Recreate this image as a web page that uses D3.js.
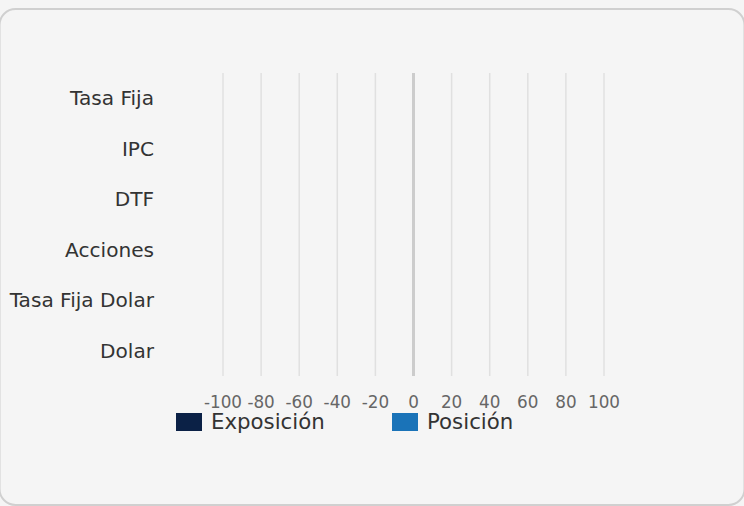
<!DOCTYPE html>
<html>
<head>
<meta charset="utf-8">
<script src="https://cdn.jsdelivr.net/npm/d3@7/dist/d3.min.js"></script>
<style>
  html, body { margin: 0; padding: 0; background: #f5f5f5; }
  svg { display: block; font-family: "DejaVu Sans", sans-serif; }
</style>
</head>
<body>
<div id="chart"></div>
<script>
// data
var categories = ["Tasa Fija", "IPC", "DTF", "Acciones", "Tasa Fija Dolar", "Dolar"];
var exposicion = [0, 0, 0, 0, 0, 0];
var posicion = [0, 0, 0, 0, 0, 0];
var seriesNames = ["Exposición", "Posición"];
var seriesColors = ["#0b2146", "#1a73b8"];
var tickValues = [-100, -80, -60, -40, -20, 0, 20, 40, 60, 80, 100];

var width = 744, height = 506;

var svg = d3.select("#chart")
  .append("svg")
  .attr("width", width)
  .attr("height", height);

// card
svg.append("rect")
  .attr("x", -0.5)
  .attr("y", 9)
  .attr("width", 745)
  .attr("height", 496)
  .attr("rx", 16)
  .attr("fill", "#f5f5f5")
  .attr("stroke", "#d0d0d0")
  .attr("stroke-width", 2);

var x = d3.scaleLinear().domain([-100, 100]).range([223, 604]);
var y = d3.scaleBand().domain(categories).range([73, 376]);
var ySub = d3.scaleBand().domain(seriesNames).range([0, y.bandwidth()]).padding(0.25);

// grid
svg.append("g")
  .selectAll("line")
  .data(tickValues)
  .enter()
  .append("line")
  .attr("x1", function (d) { return x(d); })
  .attr("x2", function (d) { return x(d); })
  .attr("y1", 73)
  .attr("y2", 376)
  .attr("stroke", function (d) { return d === 0 ? "#cccccc" : "#e0e0e0"; })
  .attr("stroke-width", function (d) { return d === 0 ? 3 : 1.5; });

// bars (all zero in the source)
var rows = categories.map(function (c, i) {
  return { cat: c, values: [exposicion[i], posicion[i]] };
});
var row = svg.append("g")
  .selectAll("g")
  .data(rows)
  .enter()
  .append("g")
  .attr("transform", function (d) { return "translate(0," + y(d.cat) + ")"; });
row.selectAll("rect")
  .data(function (d) { return d.values.map(function (v, k) { return { v: v, k: k }; }); })
  .enter()
  .append("rect")
  .attr("x", function (d) { return x(Math.min(0, d.v)); })
  .attr("width", function (d) { return Math.abs(x(d.v) - x(0)); })
  .attr("y", function (d) { return ySub(seriesNames[d.k]); })
  .attr("height", ySub.bandwidth())
  .attr("fill", function (d) { return seriesColors[d.k]; });

// category labels
svg.append("g")
  .selectAll("text")
  .data(categories)
  .enter()
  .append("text")
  .attr("x", 154)
  .attr("y", function (d) { return y(d) + y.bandwidth() / 2; })
  .attr("dy", "0.35em")
  .attr("text-anchor", "end")
  .attr("font-size", "20.1px")
  .attr("fill", "#333")
  .text(function (d) { return d; });

// tick labels
svg.append("g")
  .selectAll("text")
  .data(tickValues)
  .enter()
  .append("text")
  .attr("x", function (d) { return x(d); })
  .attr("y", 402)
  .attr("dy", "0.35em")
  .attr("text-anchor", "middle")
  .attr("font-size", "16.8px")
  .attr("fill", "#666")
  .text(function (d) { return d; });

// legend
var legendX = [176, 392];
var legend = svg.append("g")
  .selectAll("g")
  .data(seriesNames)
  .enter()
  .append("g")
  .attr("transform", function (d, i) { return "translate(" + legendX[i] + ",413)"; });
legend.append("rect")
  .attr("width", 26)
  .attr("height", 18)
  .attr("fill", function (d, i) { return seriesColors[i]; });
legend.append("text")
  .attr("x", 35)
  .attr("y", 9)
  .attr("dy", "0.35em")
  .attr("font-size", "21.3px")
  .attr("fill", "#333")
  .text(function (d) { return d; });
</script>
</body>
</html>
